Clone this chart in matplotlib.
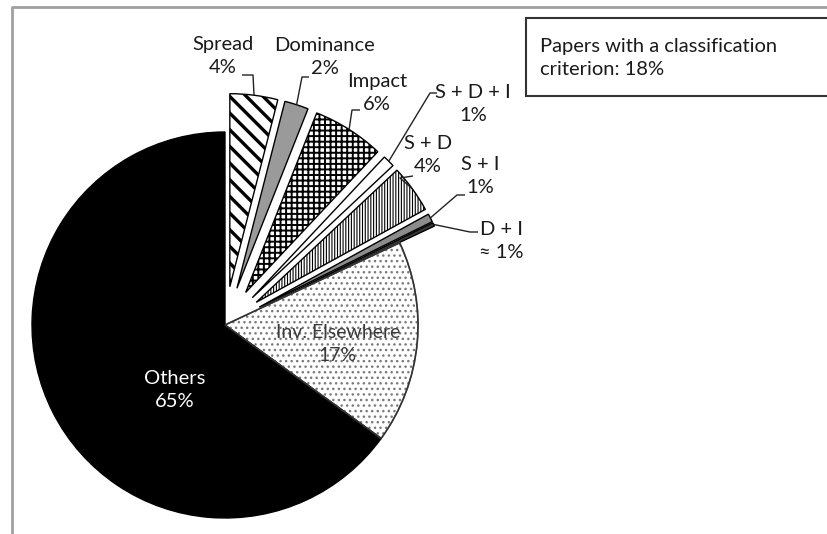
import numpy as np
import matplotlib
matplotlib.use("Agg")
import matplotlib.pyplot as plt
from matplotlib.patches import Wedge, Rectangle

# slices in Excel order: clockwise from 12 o'clock
names = ["Spread", "Dominance", "Impact", "S + D + I", "S + D", "S + I", "D + I",
         "Inv. Elsewhere", "Others"]
shares = [4, 2, 6, 1, 4, 0.7, 0.3, 17, 65]
pct_labels = ["4%", "2%", "6%", "1%", "4%", "1%", "\u2248 1%", "17%", "65%"]
box_text = "Papers with a classification\ncriterion: 18%"

W, H = 827, 534
plt.rcParams['font.family'] = ['Lato', 'DejaVu Sans']
plt.rcParams['hatch.linewidth'] = 1.0


def Y(py):
    return H - py


def main():
    fig = plt.figure(figsize=(W / 100, H / 100), dpi=100)
    ax = fig.add_axes([0, 0, 1, 1])

    radius = 193
    center = (225, Y(325))
    # pie() offsets in data units, so scale the fraction by the radius
    explode = [0.2 * radius] * 7 + [0, 0]
    faces = ["white", "#9a9a9a", "white", "white", "white", "#8c8c8c", "#3a3a3a",
             "white", "black"]
    hatches = ["\\\\", None, "+++", None, "||||||", None, None, "...", None]

    wedges, _ = ax.pie(shares, explode=explode, startangle=90, counterclock=False,
                       radius=radius, center=center, colors=faces,
                       wedgeprops=dict(edgecolor="black", linewidth=1.0))
    for w, h in zip(wedges, hatches):
        if h:
            w.set_hatch(h)
    # thicker diagonal lines for Spread
    if hasattr(wedges[0], "set_hatch_linewidth"):
        wedges[0].set_hatch_linewidth(2.4)
        wedges[2].set_hatch_linewidth(1.4)
        wedges[4].set_hatch_linewidth(0.8)

    # grey dots for Inv. Elsewhere, with a dark outline on top
    inv = wedges[7]
    inv.set_edgecolor("#7a7a7a")
    ax.add_patch(Wedge(inv.center, inv.r, inv.theta1, inv.theta2, fill=False,
                       edgecolor="#333333", linewidth=1.2))

    # outside labels with leader lines: (text centre, anchor, elbow)
    outside = {
        0: ((223, 56), (242, 75), (253, 75)),
        1: ((325, 57), (309, 77), (302, 77)),
        2: ((377, 93), (360, 110), (352, 110)),
        3: ((473, 104), (437, 93), (430, 93)),
        4: ((428, 155), (413, 176), (400, 178)),
        5: ((480, 176), (465, 195), (457, 195)),
        6: ((501, 241), (478, 232), (470, 232)),
    }
    for i, (txt, anchor, elbow) in outside.items():
        w = wedges[i]
        mid = np.deg2rad((w.theta1 + w.theta2) / 2)
        tx = w.center[0] + w.r * np.cos(mid)
        ty = w.center[1] + w.r * np.sin(mid)
        ax.plot([anchor[0], elbow[0], tx], [Y(anchor[1]), Y(elbow[1]), ty],
                color="#222222", lw=1.0, solid_capstyle="butt")
        ax.text(txt[0], Y(txt[1]), names[i] + "\n" + pct_labels[i], ha="center",
                va="center", fontsize=14.5, color="#1a1a1a", linespacing=1.45)

    ax.text(338, Y(344), names[7] + "\n" + pct_labels[7], ha="center", va="center",
            fontsize=14, color="#3a3a3a", linespacing=1.45)
    ax.text(175, Y(390), names[8] + "\n" + pct_labels[8], ha="center", va="center",
            fontsize=14.5, color="white", linespacing=1.45)

    # info box, running off the right edge
    ax.add_patch(Rectangle((526, Y(96)), 320, 78, facecolor="white",
                           edgecolor="#333333", linewidth=1.5))
    ax.text(540, Y(58), box_text, ha="left", va="center", fontsize=14.5,
            color="#1a1a1a", linespacing=1.4)

    # outer chart frame (top and left visible)
    ax.plot([12, 12, W + 5], [Y(H + 5), Y(7), Y(7)], color="#a0a0a0", lw=2)

    ax.set_xlim(0, W)
    ax.set_ylim(0, H)
    ax.set_aspect("equal")
    ax.axis("off")
    fig.savefig("out.png", dpi=100)


if __name__ == "__main__":
    main()
